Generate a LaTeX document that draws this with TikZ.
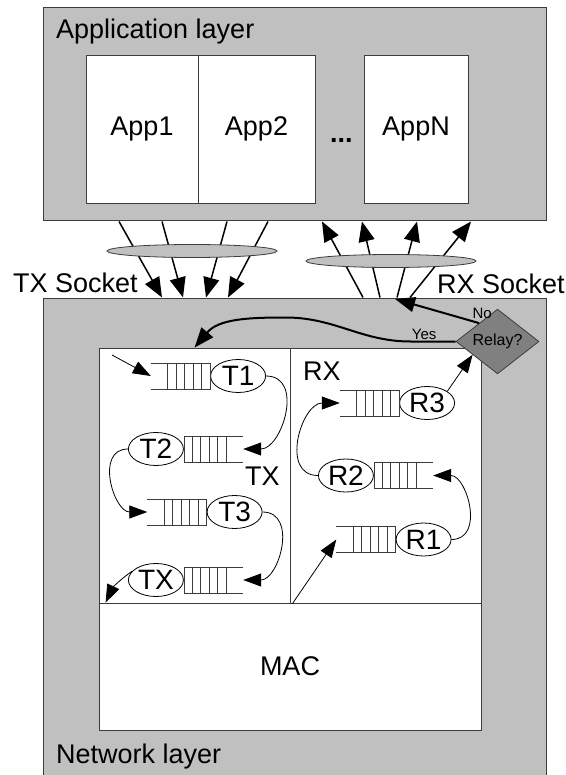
\documentclass[tikz,border=0pt]{standalone}
\usepackage{fontspec}
\setmainfont{Liberation Sans}
\usetikzlibrary{shapes.geometric, arrows.meta, positioning, calc}
\definecolor{LayerGray}{HTML}{C0C0C0}
\definecolor{RelayGray}{HTML}{808080}
\definecolor{LineGray}{HTML}{3C3C3C}

\begin{document}
\begin{tikzpicture}[
    x=1pt, y=-1pt,
    layer/.style={rectangle, draw=LineGray, line width=1pt, fill=LayerGray, inner sep=0pt},
    box/.style={rectangle, draw=LineGray, line width=0.8pt, fill=white, inner sep=0pt, font=\fontsize{27}{31}\selectfont},
    lbl/.style={inner sep=0pt, anchor=base west, font=\fontsize{27}{31}\selectfont},
    small/.style={inner sep=1pt, font=\fontsize{15}{18}\selectfont},
    socket/.style={ellipse, draw=LineGray, line width=0.8pt, fill=LayerGray, minimum width=170pt, minimum height=13pt, inner sep=0pt},
    buffer/.style={rectangle, minimum width=59pt, minimum height=26pt, inner sep=0pt},
    proc/.style={ellipse, draw=black, line width=0.8pt, fill=white, minimum width=55pt, minimum height=33pt, inner sep=0pt, font=\fontsize{28}{32}\selectfont},
    relay/.style={diamond, draw=LineGray, line width=0.8pt, fill=RelayGray, minimum width=83pt, minimum height=47pt, inner sep=0pt, font=\fontsize{16}{19}\selectfont},
    sockarrow/.style={line width=1.5pt, -{Triangle[length=20pt, width=16pt]}},
    flow/.style={line width=0.8pt, -{Triangle[length=18pt, width=13pt]}},
    relayarrow/.style={line width=2pt, -{Triangle[length=20pt, width=15pt]}}
]
\useasboundingbox (0,0) rectangle (565,775);

\node[layer, minimum width=503pt, minimum height=213pt] (app) at (294.5,114.5) {};
\node[lbl] (applbl) at (56,39) {Application layer};
\node[box, minimum width=112pt, minimum height=148pt] (app1) at (142,129) {App1};
\node[box, minimum width=117pt, minimum height=148pt] (app2) at (256.5,129) {App2};
\node[lbl, font=\fontsize{27}{31}\selectfont\bfseries] (dots) at (330,143) {...};
\node[box, minimum width=104pt, minimum height=148pt] (appN) at (416,129) {AppN};

\node[layer, minimum width=503pt, minimum height=480pt] (net) at (294.5,538) {};
\node[lbl] (netlbl) at (56,763) {Network layer};
\node[lbl] (txlbl) at (13,292) {TX Socket};
\node[lbl] (rxlbl) at (437,293) {RX Socket};

\foreach \a/\b in {119/162, 162/183, 227/206, 268/228}
  \draw[sockarrow] (\a,0 |- app.south) -- (\b,0 |- net.north);
\foreach \a/\b in {363/322, 380/362, 397/417, 410/471}
  \draw[sockarrow] (\a,0 |- net.north) -- (\b,0 |- app.south);
\node[socket] (txsock) at (192,251) {};
\node[socket] (rxsock) at (391,261) {};

\node[box, minimum width=191pt, minimum height=255pt] (txarea) at (194.5,475.5) {};
\node[box, minimum width=191pt, minimum height=255pt] (rxarea) at (385.5,475.5) {};
\node[box, minimum width=382pt, minimum height=127pt] (mac) at (290,666.5) {MAC};
\node[lbl] (txtag) at (245,485) {TX};
\node[lbl] (rxtag) at (303,380) {RX};

\node[buffer] (qt1) at (180.5,376) {};
\node[proc, right=0pt of qt1] (t1) {T1};
\node[buffer] (qt2) at (213.5,449) {};
\node[proc, left=0pt of qt2] (t2) {T2};
\node[buffer] (qt3) at (177,512) {};
\node[proc, right=0pt of qt3] (t3) {T3};
\node[buffer] (qtx) at (213.5,580) {};
\node[proc, left=0pt of qtx] (tx) {TX};
\node[buffer] (qr3) at (369.5,403) {};
\node[proc, right=0pt of qr3] (r3) {R3};
\node[buffer] (qr2) at (403.5,475.5) {};
\node[proc, left=0pt of qr2] (r2) {R2};
\node[buffer] (qr1) at (366,539.5) {};
\node[proc, right=0pt of qr1] (r1) {R1};

\foreach \q/\c/\o in {qt1/east/west, qt2/west/east, qt3/east/west, qtx/west/east, qr3/east/west, qr2/west/east, qr1/east/west} {
  \draw[line width=0.6pt, draw=LineGray] (\q.north \o) -- (\q.north \c) -- (\q.south \c) -- (\q.south \o);
  \foreach \k in {1,...,5}
    \draw[line width=0.6pt, draw=LineGray] ($(\q.north \c)!\k/7!(\q.north \o)$) -- ($(\q.south \c)!\k/7!(\q.south \o)$);
}

\coordinate (txin) at (112,355);
\coordinate (txout) at ($(mac.north west)+(7,0)$);
\coordinate (rxin) at ($(rxarea.south west)+(3,0)$);
\draw[flow] (txin) -- (qt1.west);
\draw[flow] (t1.east) to[out=0, in=0, looseness=1.3] (qt2.east);
\draw[flow] (t2.west) to[out=180, in=180, looseness=1.3] (qt3.west);
\draw[flow] (t3.east) to[out=0, in=0, looseness=1.3] (qtx.east);
\draw[flow] (tx.160) to[bend right=15] (txout);
\draw[flow] (rxin) -- (qr1.west);
\draw[flow] (r1.east) to[out=0, in=0, looseness=1.3] (qr2.east);
\draw[flow] (r2.west) to[out=180, in=180, looseness=1.3] (qr3.west);

\node[relay] (relay) at (497.5,341.5) {Relay?};
\draw[flow] (r3.30) -- (relay.208);
\coordinate (noin) at (395,299);
\draw[relayarrow] (relay.135) -- (noin) node[small, pos=0, above, xshift=3pt, yshift=2pt] {No};
\draw[relayarrow] (relay.west) -- ++(-45,0) node[small, pos=0.7, above] {Yes}
  to[out=180, in=0] ++(-125,-24) to[out=180, in=50] (txarea.north);
\end{tikzpicture}
\end{document}
